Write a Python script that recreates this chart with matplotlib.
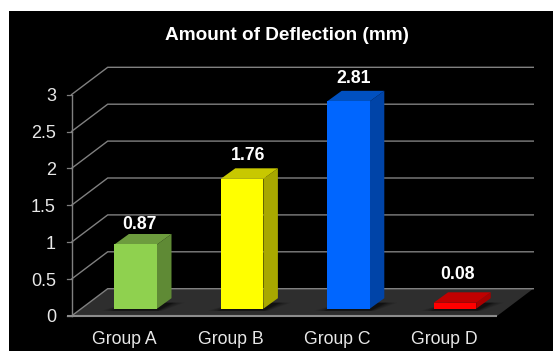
import matplotlib
matplotlib.use('Agg')
import matplotlib.pyplot as plt
from matplotlib.patches import Polygon, Rectangle

plt.rcParams['font.family'] = ['Liberation Sans', 'DejaVu Sans']

groups = ['Group A', 'Group B', 'Group C', 'Group D']
values = [0.87, 1.76, 2.81, 0.08]
yticks = [0, 0.5, 1, 1.5, 2, 2.5, 3]
ytick_labels = ['0', '0.5', '1', '1.5', '2', '2.5', '3']
front_colors = ['#8fd14f', '#ffff00', '#0066ff', '#ff0000']
top_colors = ['#6d9c3e', '#c8c800', '#0050c0', '#c00000']
side_colors = ['#5f8a35', '#a8a800', '#0044a8', '#a80000']
# value label nudges in px, they are not evenly placed in the original
label_nudge_x = [14.3, 17, 15.7, 13.3]
label_nudge_y = [1, 4.5, 4, 9]

W, H = 553, 351
PX_X = 106.4   # px per category
PX_Y = 73.8    # px per value unit
X0 = 124.7     # px of first category
Y0 = 316.0     # px of value 0

fig = plt.figure(figsize=(W / 100, H / 100), dpi=100, facecolor='white')
ax = fig.add_axes([0, 0, 1, 1])
ax.set_xlim(-X0 / PX_X, (W - X0) / PX_X)
ax.set_ylim(-(H - Y0) / PX_Y, Y0 / PX_Y)
ax.axis('off')


def dx(px):
    return px / PX_X


def dy(px):
    return px / PX_Y


# black background, leaves white strip top and left
ax.add_patch(Rectangle((9 / W, 0), 1, 1 - 11 / H, transform=ax.transAxes,
                       fc='black', ec='none', zorder=0))

left = -0.5
right = 3.5
depth_x = dx(36.2)
depth_y = dy(27.3)
grid_color = '#808080'

# floor
ax.add_patch(Polygon([(left, 0), (left + depth_x, depth_y),
                      (right + depth_x, depth_y), (right, 0)],
                     fc='#2e2e2e', ec='none', zorder=1))

# walls and grid
for t in yticks:
    ax.plot([left, left + depth_x, right + depth_x], [t, t + depth_y, t + depth_y],
            color=grid_color, lw=1.0, zorder=2, solid_joinstyle='miter')
    ax.plot([left - dx(5), left], [t, t], color=grid_color, lw=0.9, zorder=2)
ax.plot([left, left], [0, 3], color=grid_color, lw=1.0, zorder=2)
ax.plot([left - dx(5), right], [0, 0], color='#8c8c8c', lw=1.5, zorder=3,
        solid_capstyle='butt')

for t, lab in zip(yticks, ytick_labels):
    ax.text(left - dx(15.5), t, lab, color='#e8e8e8', fontsize=13,
            ha='right', va='center_baseline', zorder=6)

# bars
off_x = dx(11)
base = dy(7.3)
half = dx(21.3)
bar_dx = dx(14.5)
bar_dy = dy(10.5)
for i, (v, fc, tc, sc) in enumerate(zip(values, front_colors, top_colors, side_colors)):
    c = i + off_x
    l, r = c - half, c + half
    t = base + v
    # shadow on the floor
    for grow, a in [(13, 0.10), (10, 0.12), (7, 0.15), (4, 0.2), (2, 0.25)]:
        ax.add_patch(Polygon([(l - dx(grow), base - dy(2)),
                              (r + dx(grow * 0.4), base - dy(2)),
                              (r + bar_dx + dx(grow), base + dy(6)),
                              (l + bar_dx, base + dy(6))],
                             fc='black', ec='none', alpha=a, zorder=3))
    ax.add_patch(Polygon([(r, base), (r + bar_dx, base + bar_dy),
                          (r + bar_dx, t + bar_dy), (r, t)],
                         fc=sc, ec='none', zorder=4))
    ax.add_patch(Polygon([(l, t), (r, t), (r + bar_dx, t + bar_dy), (l + bar_dx, t + bar_dy)],
                         fc=tc, ec='none', zorder=4))
    ax.bar(c, v, bottom=base, width=2 * half, color=fc, zorder=5)
    ax.text(i + dx(label_nudge_x[i]), t + bar_dy + dy(label_nudge_y[i]), '%.2f' % v,
            color='white', fontsize=12.7, fontweight='bold', ha='center', va='bottom', zorder=6)
    ax.text(i, -dy(21.5), groups[i], color='#e8e8e8', fontsize=12.7,
            ha='center', va='center_baseline', zorder=6)

ax.text((287 - X0) / PX_X, (Y0 - 33) / PX_Y, 'Amount of Deflection (mm)', color='white',
        fontsize=13.7, fontweight='bold', ha='center', va='center_baseline', zorder=6)

fig.savefig('out.png', dpi=100, facecolor='white')
